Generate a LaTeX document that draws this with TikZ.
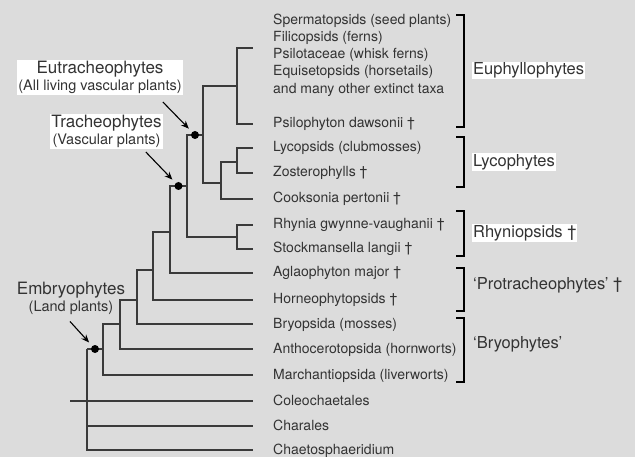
\documentclass[tikz,border=0pt]{standalone}
\usepackage{fontspec}
\setmainfont{TeX Gyre Heros}
\usetikzlibrary{arrows.meta,positioning}
\definecolor{bg}{HTML}{DCDCDC}
\definecolor{ink}{HTML}{333333}
\definecolor{twig}{HTML}{3A3A3A}
\newcommand{\subfont}{\fontsize{14.5}{17}\selectfont}
\newcommand{\brak}[2]{\draw[br] (456,#1) -| (464,#2) -- (456,#2);}
\tikzset{
  leaf/.style={inner xsep=0pt,inner ysep=1pt,text height=10pt,text depth=2pt,font=\fontsize{14}{17}\selectfont,text=ink},
  block/.style={leaf,text height=,text depth=,align=left,font=\fontsize{14}{17.15}\selectfont},
  grp/.style={anchor=west,inner sep=1pt,font=\fontsize{16.5}{19}\selectfont,text=ink},
  wgrp/.style={grp,fill=white},
  clade/.style={align=center,inner sep=1pt,font=\fontsize{17}{17}\selectfont,text=ink},
  wclade/.style={clade,fill=white},
  ln/.style={draw=twig,line width=1.6pt},
  br/.style={draw=black,line width=1.2pt},
  dot/.style={circle,fill=black,inner sep=0pt,minimum size=8pt},
  ar/.style={-{Stealth[length=8pt,width=6.5pt]},draw=black,line width=1.1pt,shorten >=4pt},
}

\begin{document}
\begin{tikzpicture}[x=1pt,y=-1pt]
\path[use as bounding box,fill=bg] (0,0) rectangle (635,457);

\coordinate (tEu) at (253,48);
\node[block,right=20pt of tEu,yshift=-7pt] (eu) {Spermatopsids (seed plants)\\Filicopsids (ferns)\\Psilotaceae (whisk ferns)\\Equisetopsids (horsetails)\\and many other extinct taxa};
\foreach \y/\n/\t in {124/Psilo/{Psilophyton dawsonii †},148/Lyco/{Lycopsids (clubmosses)},
  173/Zost/{Zosterophylls †},199/Cook/{Cooksonia pertonii †},225/Rhyn/{Rhynia gwynne-vaughanii †},
  249/Stock/{Stockmansella langii †},273/Agl/{Aglaophyton major †},300/Horn/{Horneophytopsids †},
  324/Bryo/{Bryopsida (mosses)},349/Anth/{Anthocerotopsida (hornworts)},375/Marc/{Marchantiopsida (liverworts)},
  401/Cole/{Coleochaetales},426/Char/{Charales},450/Chae/{Chaetosphaeridium}}{
  \coordinate (t\n) at (253,\y);
  \node[leaf,right=20pt of t\n] (\n) {\t};
}

\coordinate (nEuph) at (237,86);
\coordinate (nLyc) at (237,162);
\coordinate (nLZC) at (221,183);
\coordinate (nEutr) at (203,135);
\coordinate (nRhy) at (237,237);
\coordinate (nTrach) at (187,186);
\coordinate (nAgl) at (170,232);
\coordinate (nHor) at (153,270);
\coordinate (nBry) at (137,300);
\coordinate (nAnt) at (120,324);
\coordinate (nMar) at (103,349);
\coordinate (nRoot) at (87,349);
\coordinate (cCole) at (70,401);

\draw[ln] (nEuph) |- (tEu) (nEuph) |- (tPsilo);
\draw[ln] (nLyc) |- (tLyco) (nLyc) |- (tZost);
\draw[ln] (nLZC) |- (nLyc) (nLZC) |- (tCook);
\draw[ln] (nEutr) |- (nEuph) (nEutr) |- (nLZC);
\draw[ln] (nRhy) |- (tRhyn) (nRhy) |- (tStock);
\draw[ln] (nTrach) |- (nRhy);
\draw[ln] (nTrach) |- (nEutr) node[pos=.75,dot] (dEutr) {};
\draw[ln] (nAgl) |- (tAgl);
\draw[ln] (nAgl) |- (nTrach) node[pos=.75,dot] (dTrach) {};
\draw[ln] (nHor) |- (nAgl) (nHor) |- (tHorn);
\draw[ln] (nBry) |- (nHor) (nBry) |- (tBryo);
\draw[ln] (nAnt) |- (nBry) (nAnt) |- (tAnth);
\draw[ln] (nMar) |- (nAnt) (nMar) |- (tMarc);
\draw[ln] (nRoot) |- (tChar) (nRoot) |- (tChae);
\draw[ln] (nRoot) |- (nMar) node[pos=.75,dot] (dEmb) {};
\draw[ln] (cCole) -- (tCole);

\node[wclade] (lEutr) at (100,77.5) {Eutracheophytes\\{\subfont (All living vascular plants)}};
\node[wclade] (lTrach) at (106.5,131.5) {Tracheophytes\\{\subfont (Vascular plants)}};
\node[clade] (lEmb) at (71,298) {Embryophytes\\{\subfont (Land plants)}};
\draw[ar] ([shift={(-20,7)}]lEutr.south east) -- (dEutr);
\draw[ar] ([shift={(-17,3)}]lTrach.south east) -- (dTrach);
\draw[ar] ([shift={(-1,6)}]lEmb.south) -- (dEmb);

\brak{15}{127}
\brak{137}{187}
\brak{211}{256}
\brak{268}{311}
\brak{318}{382}
\node[wgrp] (gEuph) at (472,70.5) {Euphyllophytes};
\node[wgrp] (gLyco) at (472,162) {Lycophytes};
\node[wgrp] (gRhyn) at (472,233) {Rhyniopsids †};
\node[grp] (gProt) at (472,285) {‘Protracheophytes’ †};
\node[grp] (gBryo) at (472,344) {‘Bryophytes’};
\end{tikzpicture}
\end{document}
